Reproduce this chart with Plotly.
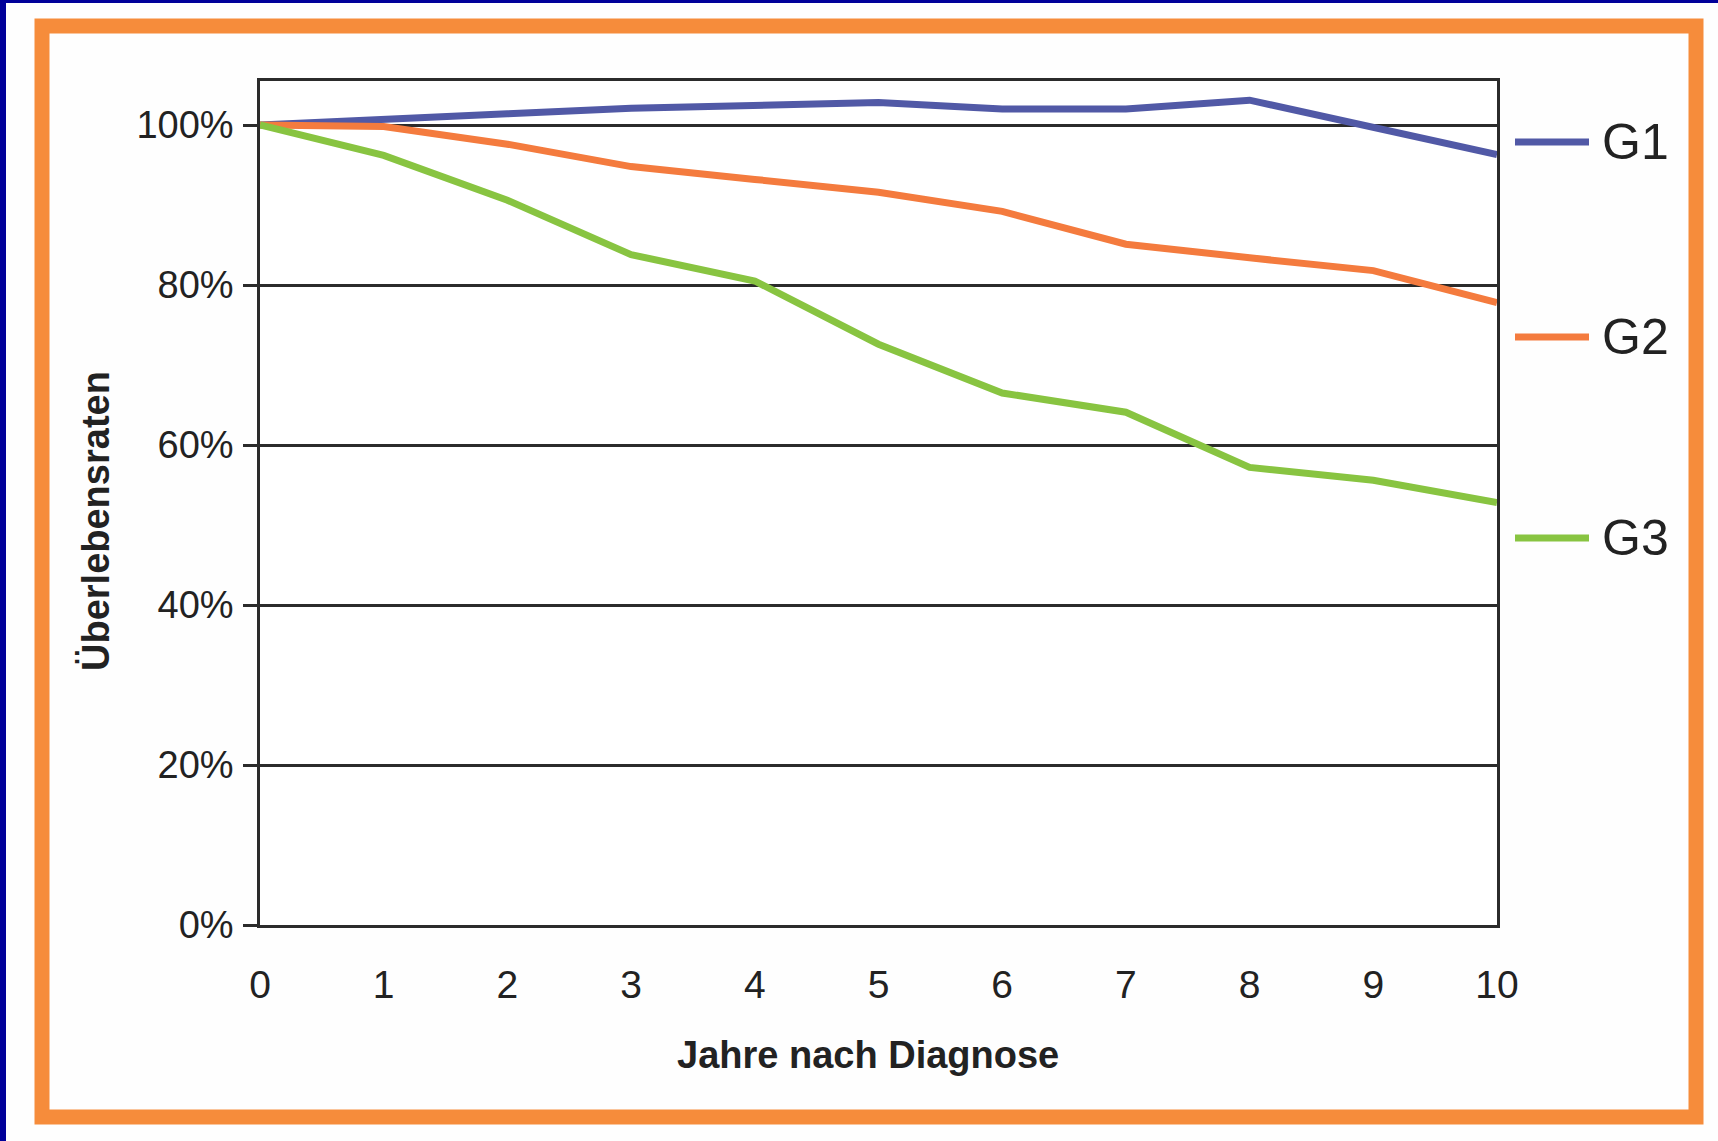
import plotly.graph_objects as go

# Survival rates by grade over the years after diagnosis
years = [0, 1, 2, 3, 4, 5, 6, 7, 8, 9, 10]
g1 = [100, 100.6, 101.4, 102.1, 102.4, 102.8, 102.0, 102.0, 103.1, 99.6, 96.3]
g2 = [100, 99.8, 97.6, 94.8, 93.2, 91.6, 89.2, 85.1, 83.4, 81.8, 77.8]
g3 = [100, 96.2, 90.6, 83.8, 80.5, 72.6, 66.5, 64.1, 57.2, 55.6, 52.8]
series_names = ["G1", "G2", "G3"]
y_ticks = [0, 20, 40, 60, 80, 100]
x_title = "Jahre nach Diagnose"
y_title = "Überlebensraten"

colors = ["#5159A6", "#F47B3E", "#88C441"]
W, H = 1718, 1141
L, R, T, B = 260, 1497, 81, 925  # plot area in pixels

def px(x):
    return (x - L) / (R - L)

def py(y):
    return (B - y) / (B - T)

fig = go.Figure()
for name, vals, col in zip(series_names, [g1, g2, g3], colors):
    fig.add_trace(go.Scatter(
        x=years, y=vals, name=name, mode="lines",
        line=dict(color=col, width=7), showlegend=False,
    ))

font_family = "Liberation Sans, Arial, sans-serif"
ink = "#222222"
rule = "#2B2B2B"

shapes = []
annotations = []

# legend drawn beside the plot
legend_y = [142, 337, 538]
for name, col, ly in zip(series_names, colors, legend_y):
    shapes.append(dict(type="line", xref="paper", yref="paper",
                       x0=px(1515), x1=px(1589), y0=py(ly), y1=py(ly),
                       line=dict(color=col, width=7)))
    annotations.append(dict(text=name, xref="paper", yref="paper",
                            x=px(1600), y=py(ly), xanchor="left", yanchor="middle",
                            showarrow=False,
                            font=dict(family=font_family, size=50, color=ink)))

# axis titles
annotations.append(dict(text="<b>%s</b>" % x_title, xref="paper", yref="paper",
                        x=px(868), y=py(1055), xanchor="center", yanchor="middle",
                        showarrow=False,
                        font=dict(family=font_family, size=38, color=ink)))
annotations.append(dict(text="<b>%s</b>" % y_title, xref="paper", yref="paper",
                        x=px(96), y=py(521), xanchor="center", yanchor="middle",
                        textangle=-90, showarrow=False,
                        font=dict(family=font_family, size=38, color=ink)))

# orange frame around the chart
shapes.append(dict(type="rect", xref="paper", yref="paper", layer="below",
                   x0=px(42), x1=px(1696), y0=py(1117), y1=py(26),
                   line=dict(color="#F68C3B", width=15)))
# dark blue page edges
shapes.append(dict(type="rect", xref="paper", yref="paper",
                   x0=px(0), x1=px(6), y0=py(H), y1=py(0),
                   fillcolor="#000099", line=dict(width=0)))
shapes.append(dict(type="rect", xref="paper", yref="paper",
                   x0=px(0), x1=px(W), y0=py(3), y1=py(0),
                   fillcolor="#000099", line=dict(width=0)))

fig.update_layout(
    width=W, height=H,
    margin=dict(l=L, r=W - R, t=T, b=H - B),
    paper_bgcolor="#FEFEFE", plot_bgcolor="#FFFFFF",
    shapes=shapes, annotations=annotations,
    showlegend=False,
    font=dict(family=font_family, color=ink),
)
fig.update_xaxes(
    range=[0, 10], tickvals=years, ticktext=[str(v) for v in years],
    showgrid=False, zeroline=False,
    showline=True, mirror=True, linecolor=rule, linewidth=2.5,
    ticks="", ticklabelstandoff=23,
    tickfont=dict(family=font_family, size=39, color=ink),
)
fig.update_yaxes(
    range=[0, 105.5], tickvals=y_ticks, ticktext=["%d%%" % v for v in y_ticks],
    showgrid=True, gridcolor=rule, gridwidth=2.5, zeroline=False,
    showline=True, mirror=True, linecolor=rule, linewidth=2.5,
    ticks="outside", ticklen=14, tickwidth=2.5, tickcolor=rule,
    ticklabelstandoff=2,
    tickfont=dict(family=font_family, size=38, color=ink),
)

fig.write_html("out.html")
